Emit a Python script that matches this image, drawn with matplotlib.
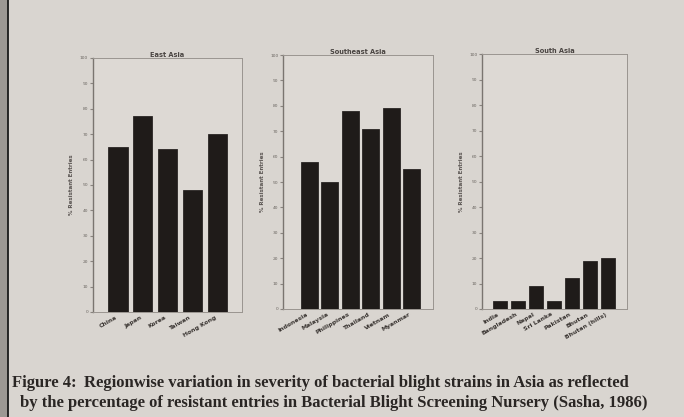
import numpy as np
import matplotlib
matplotlib.use('Agg')
import matplotlib.pyplot as plt
from matplotlib.lines import Line2D

# values (% resistant entries)
east_labels = ['China', 'Japan', 'Korea', 'Taiwan', 'Hong Kong']
east_vals = [65, 77, 64, 48, 70]

se_labels = ['Indonesia', 'Malaysia', 'Philippines', 'Thailand', 'Vietnam', 'Myanmar']
se_vals = [58, 50, 78, 71, 79, 55]

south_labels = ['India', 'Bangladesh', 'Nepal', 'Sri Lanka', 'Pakistan', 'Bhutan', 'Bhutan (hills)']
south_vals = [3, 3, 9, 3, 12, 19, 20]

titles = ['East Asia', 'Southeast Asia', 'South Asia']
yticks = list(range(0, 101, 10))

bg = '#d9d5d0'
fig = plt.figure(figsize=(6.84, 4.17), dpi=100, facecolor=bg)

# page edge on the left of the photo
fig.patches.append(plt.Rectangle((0, 0), 8/684, 1, transform=fig.transFigure,
                                 facecolor='#9c9893', edgecolor='none', zorder=0))
fig.lines.append(Line2D([8/684, 8/684], [0, 1], transform=fig.transFigure,
                        color='#1a1a1a', lw=1.3))

panels = [
    ([0.136, 0.252, 0.218, 0.609], east_labels, east_vals, (-1.0, 5.0), 0.78),
    ([0.414, 0.259, 0.219, 0.609], se_labels, se_vals, (-1.28, 6.04), 0.82),
    ([0.705, 0.259, 0.212, 0.611], south_labels, south_vals, (-1.0, 7.1), 0.78),
]

for (rect, labels, vals, xl, bw), title in zip(panels, titles):
    ax = fig.add_axes(rect)
    ax.set_facecolor('#ddd9d4')
    x = np.arange(len(vals))
    ax.bar(x, vals, width=bw, color='#1f1b19', edgecolor='#2a2624', lw=0.6)
    ax.set_xlim(*xl)
    ax.set_ylim(0, 100)
    ax.set_yticks(yticks)
    ax.set_yticklabels([str(t) for t in yticks], fontsize=3.2, color='#6a6560')
    ax.tick_params(axis='y', length=2.5, width=0.8, color='#8a8580', pad=1)
    ax.set_xticks(x)
    ax.set_xticklabels(labels, rotation=30, ha='right', fontsize=4.4,
                       color='#3a3532', fontweight='bold')
    ax.tick_params(axis='x', length=0, pad=2)
    for s in ax.spines.values():
        s.set_color('#9a9590')
        s.set_linewidth(0.7)
    ax.spines['left'].set_color('#7a7570')
    ax.spines['left'].set_linewidth(1.0)
    ax.set_title(title, fontsize=4.8, fontweight='bold', color='#4a4542', pad=1)
    ax.set_ylabel('% Resistant Entries', fontsize=4.0, color='#5a5552',
                  fontweight='bold', labelpad=4)

cap = dict(family='Liberation Serif', fontweight='bold', fontsize=12, color='#2a2624')
fig.text(12/684, 1 - 383/417, 'Figure 4:', va='center', ha='left', **cap)
fig.text(84/684, 1 - 383/417,
         'Regionwise variation in severity of bacterial blight strains in Asia as reflected',
         va='center', ha='left', **cap)
fig.text(20/684, 1 - 403/417,
         'by the percentage of resistant entries in Bacterial Blight Screening Nursery (Sasha, 1986)',
         va='center', ha='left', **cap)

fig.savefig('out.png', dpi=100, facecolor=bg)
